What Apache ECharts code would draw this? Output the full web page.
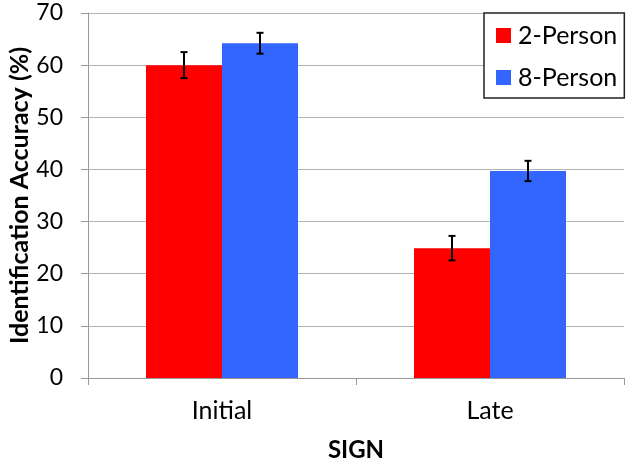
<!DOCTYPE html>
<html>
<head>
<meta charset="utf-8">
<script src="https://cdn.jsdelivr.net/npm/echarts@6/dist/echarts.min.js"></script>
<style>
html,body{margin:0;padding:0;background:#fff;}
#chart{width:632px;height:467px;}
</style>
</head>
<body>
<div id="chart"></div>
<script>
var categories = ['Initial', 'Late'];
var seriesNames = ['2-Person', '8-Person'];
var values2 = [60.0, 24.9];
var values8 = [64.2, 39.7];
var err2 = [2.5, 2.35];
var err8 = [2.0, 1.95];
var yTicks = [0, 10, 20, 30, 40, 50, 60, 70];

var FONT = 'Lato';
var BAR_W = 76;

function errSeries(name, vals, errs, side) {
  return {
    name: name + ' err',
    type: 'custom',
    z: 10,
    silent: true,
    data: vals.map(function (v, i) { return [i, v - errs[i], v + errs[i]]; }),
    renderItem: function (params, api) {
      var lo = api.coord([api.value(0), api.value(1)]);
      var hi = api.coord([api.value(0), api.value(2)]);
      var x = lo[0] + side * BAR_W / 2;
      var cap = 3.5;
      var st = { stroke: '#000', lineWidth: 2 };
      return {
        type: 'group',
        children: [
          { type: 'line', shape: { x1: x, y1: lo[1], x2: x, y2: hi[1] }, style: st },
          { type: 'line', shape: { x1: x - cap, y1: lo[1], x2: x + cap, y2: lo[1] }, style: st },
          { type: 'line', shape: { x1: x - cap, y1: hi[1], x2: x + cap, y2: hi[1] }, style: st }
        ]
      };
    }
  };
}

var chart = echarts.init(document.getElementById('chart'), null, { renderer: 'canvas' });
chart.setOption({
  animation: false,
  backgroundColor: '#fff',
  textStyle: { fontFamily: FONT },
  grid: { left: 88, right: 8, top: 13, bottom: 89, containLabel: false, outerBoundsMode: 'none' },
  legend: {
    data: seriesNames,
    orient: 'vertical',
    left: 484,
    top: 13,
    padding: [10, 7, 8, 12],
    itemGap: 17,
    itemWidth: 15,
    itemHeight: 15,
    icon: 'rect',
    backgroundColor: '#fff',
    borderColor: '#222',
    borderWidth: 1.5,
    textStyle: { fontFamily: FONT, fontSize: 25, lineHeight: 25, color: '#000', padding: [0, 0, 0, 2] }
  },
  xAxis: {
    type: 'category',
    data: categories,
    name: 'SIGN',
    nameLocation: 'middle',
    nameGap: 60,
    nameMoveOverlap: false,
    nameTextStyle: { fontFamily: FONT, fontSize: 24, fontWeight: 'bold', color: '#000' },
    axisLine: { lineStyle: { color: '#999', width: 1 } },
    axisTick: { show: true, length: 7, lineStyle: { color: '#999' } },
    axisLabel: { fontFamily: FONT, fontSize: 25, color: '#000', margin: 20 }
  },
  yAxis: {
    type: 'value',
    min: yTicks[0],
    max: yTicks[yTicks.length - 1],
    interval: 10,
    name: 'Identification Accuracy (%)',
    nameLocation: 'middle',
    nameGap: 56,
    nameMoveOverlap: false,
    nameRotate: 90,
    nameTextStyle: { fontFamily: FONT, fontSize: 25, fontWeight: 'bold', color: '#000' },
    axisLine: { show: true, lineStyle: { color: '#999', width: 1 } },
    axisTick: { show: true, length: 7, lineStyle: { color: '#999' } },
    axisLabel: { fontFamily: FONT, fontSize: 23, color: '#000', margin: 25 },
    splitLine: { show: true, lineStyle: { color: '#b3b3b3', width: 1 } }
  },
  series: [
    { name: seriesNames[0], type: 'bar', data: values2, barWidth: BAR_W, barGap: '0%', itemStyle: { color: '#ff0000' } },
    { name: seriesNames[1], type: 'bar', data: values8, barWidth: BAR_W, barGap: '0%', itemStyle: { color: '#3366ff' } },
    errSeries(seriesNames[0], values2, err2, -1),
    errSeries(seriesNames[1], values8, err8, 1)
  ]
});
</script>
</body>
</html>
